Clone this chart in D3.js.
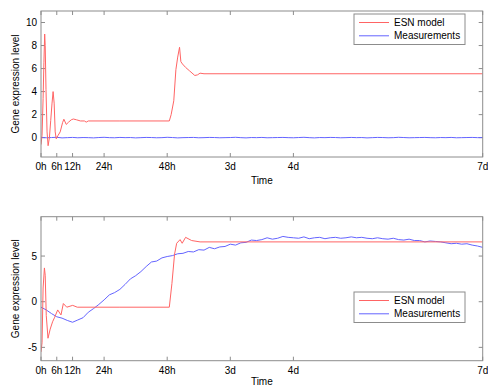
<!DOCTYPE html>
<html>
<head>
<meta charset="utf-8">
<script src="https://cdn.jsdelivr.net/npm/d3@7"></script>
<style>
body { margin: 0; background: #fff; }
svg text { font-family: "Liberation Sans", Arial, sans-serif; font-size: 10px; fill: #000; }
</style>
</head>
<body>
<div id="chart"></div>
<script>
var tickHours = [0, 6, 12, 24, 48, 72, 96, 168];
var tickLabels = ["0h", "6h", "12h", "24h", "48h", "3d", "4d", "7d"];
var seriesNames = ["ESN model", "Measurements"];

// top panel: ESN model (hour, value)
var esnTopHours = [0, 0.4, 0.8, 1.1, 1.4, 1.6, 1.9, 2.3, 2.7, 3.2, 3.7, 4.2, 4.6, 5.0, 5.4, 5.8, 6.5, 7.3, 8.2, 8.7, 9.6, 10.5, 11.5, 12.3, 13.5, 15, 16.5, 17.2, 18, 30, 48.8, 49.5, 50.5, 51.3, 52, 52.7, 53.2, 53.8, 55, 56.5, 58.5, 59.5, 60.5, 62, 168];
var esnTopValues = [-0.6, 0.2, 3.4, 6.5, 9.0, 8.0, 4.2, 0.5, -0.7, 0.0, 1.5, 3.0, 4.0, 3.0, 0.5, -0.1, 0.2, 0.5, 1.3, 1.6, 1.15, 1.35, 1.55, 1.62, 1.55, 1.45, 1.45, 1.35, 1.45, 1.45, 1.45, 2.0, 3.2, 5.9, 7.0, 7.85, 6.6, 6.4, 6.1, 5.8, 5.4, 5.45, 5.6, 5.55, 5.55];

// measurements every 2 hours, 0..168
var measHours = d3.range(0, 169, 2);
var measTopValues = [0.02, -0.01, 0.01, 0.03, -0.02, 0.0, 0.02, -0.01, 0.01, 0.0, -0.02, 0.01, 0.03, 0.0, -0.01, 0.02, 0.0, 0.01, -0.02, 0.0, 0.02, 0.01, -0.01, 0.0, 0.03, 0.01, -0.02, 0.0, 0.01, 0.02, -0.01, 0.0, 0.02, 0.01, -0.01, 0.0, 0.01, 0.03, 0.0, -0.02, 0.01, 0.0, 0.02, -0.01, 0.0, 0.01, 0.02, 0.0, -0.01, 0.01, 0.03, 0.0, -0.02, 0.01, 0.0, 0.02, 0.01, -0.01, 0.0, 0.02, 0.0, 0.01, -0.02, 0.0, 0.02, 0.01, -0.01, 0.0, 0.03, 0.01, -0.01, 0.0, 0.01, 0.02, 0.0, -0.01, 0.01, 0.0, 0.02, -0.01, 0.0, 0.01, 0.02, 0.0, 0.01];

// bottom panel
var esnBottomHours = [0, 0.4, 0.8, 1.3, 1.6, 2.0, 2.66, 3.5, 4.4, 5.2, 6.35, 7.6, 8.5, 9.8, 12.05, 13.8, 30, 48.8, 49.8, 50.8, 51.6, 52.9, 53.7, 55.0, 57.3, 60.5, 168];
var esnBottomValues = [-5.5, -4.5, 1.5, 3.7, 2.9, -1.5, -4.0, -3.0, -2.2, -1.7, -0.9, -1.45, -0.2, -0.6, -0.4, -0.6, -0.6, -0.6, 2.0, 5.2, 6.4, 6.8, 6.4, 7.05, 6.7, 6.55, 6.55];
var measBottomValues = [-0.6, -0.9, -1.3, -1.65, -1.8, -2.05, -2.25, -2.0, -1.75, -1.15, -0.75, -0.3, 0.2, 0.75, 1.0, 1.35, 1.9, 2.5, 2.85, 3.3, 3.85, 4.35, 4.45, 4.8, 4.95, 5.05, 5.25, 5.3, 5.5, 5.45, 5.7, 5.65, 5.95, 5.8, 6.0, 6.05, 6.3, 6.2, 6.45, 6.5, 6.75, 6.7, 6.8, 7.0, 6.85, 6.95, 7.15, 7.05, 7.0, 6.95, 7.1, 6.9, 7.0, 7.05, 6.9, 7.0, 7.05, 6.95, 7.0, 7.1, 7.0, 7.05, 6.95, 6.9, 7.0, 6.9, 6.85, 6.95, 6.8, 6.75, 6.85, 6.7, 6.7, 6.55, 6.65, 6.6, 6.55, 6.45, 6.35, 6.4, 6.3, 6.35, 6.2, 6.1, 5.95];

var colours = { esn: "#ff6464", meas: "#6464ff", box: "#8c8c8c" };
var width = 488, height = 387;
var left = 41, right = 482.7;

var svg = d3.select("#chart").append("svg")
	.attr("width", width)
	.attr("height", height);

var x = d3.scaleLinear().domain([0, 168]).range([left, right]);

function zip(hs, vs) {
	return hs.map(function (h, i) { return [h, vs[i]]; });
}

function buildPanel(cfg) {
	var y = d3.scaleLinear().domain(cfg.yDomain).range([cfg.bottom, cfg.top]);
	var g = svg.append("g");

	var clipId = "clip" + cfg.id;
	g.append("clipPath").attr("id", clipId)
	  .append("rect")
		.attr("x", left).attr("y", cfg.top)
		.attr("width", right - left).attr("height", cfg.bottom - cfg.top);

	var line = d3.line()
		.x(function (d) { return x(d[0]); })
		.y(function (d) { return y(d[1]); });

	// ticks (inside, on all four sides)
	tickHours.forEach(function (h) {
		g.append("line").attr("x1", x(h)).attr("x2", x(h))
			.attr("y1", cfg.bottom).attr("y2", cfg.bottom - 4)
			.attr("stroke", colours.box);
		g.append("line").attr("x1", x(h)).attr("x2", x(h))
			.attr("y1", cfg.top).attr("y2", cfg.top + 4)
			.attr("stroke", colours.box);
	});
	cfg.yTicks.forEach(function (v) {
		g.append("line").attr("x1", left).attr("x2", left + 4)
			.attr("y1", y(v)).attr("y2", y(v))
			.attr("stroke", colours.box);
		g.append("line").attr("x1", right).attr("x2", right - 4)
			.attr("y1", y(v)).attr("y2", y(v))
			.attr("stroke", colours.box);
	});

	var plot = g.append("g").attr("clip-path", "url(#" + clipId + ")");
	plot.append("path")
		.datum(zip(measHours, cfg.meas))
		.attr("fill", "none")
		.attr("stroke", colours.meas)
		.attr("stroke-width", 1)
		.attr("d", line);
	plot.append("path")
		.datum(zip(cfg.esnHours, cfg.esn))
		.attr("fill", "none")
		.attr("stroke", colours.esn)
		.attr("stroke-width", 1)
		.attr("d", line);

	g.append("rect")
		.attr("x", left).attr("y", cfg.top)
		.attr("width", right - left).attr("height", cfg.bottom - cfg.top)
		.attr("fill", "none")
		.attr("stroke", colours.box);

	// tick labels
	g.selectAll("text.xt")
		.data(tickHours)
		.enter()
	  .append("text")
		.attr("class", "xt")
		.attr("x", function (d) { return x(d); })
		.attr("y", cfg.bottom + 13)
		.attr("text-anchor", "middle")
		.text(function (d, i) { return tickLabels[i]; });

	g.selectAll("text.yt")
		.data(cfg.yTicks)
		.enter()
	  .append("text")
		.attr("class", "yt")
		.attr("x", left - 4)
		.attr("y", function (d) { return y(d); })
		.attr("dy", "0.35em")
		.attr("text-anchor", "end")
		.text(function (d) { return d; });

	g.append("text")
		.attr("x", (left + right) / 2)
		.attr("y", cfg.bottom + cfg.timeDy)
		.attr("text-anchor", "middle")
		.text("Time");

	g.append("text")
		.attr("transform", "translate(19," + ((cfg.top + cfg.bottom) / 2) + ") rotate(-90)")
		.attr("text-anchor", "middle")
		.text("Gene expression level");

	// legend
	var lg = g.append("g").attr("transform", "translate(354," + cfg.legendY + ")");
	lg.append("rect")
		.attr("width", 111).attr("height", 30.5)
		.attr("fill", "#fff")
		.attr("stroke", colours.box);
	[colours.esn, colours.meas].forEach(function (c, i) {
		lg.append("line")
			.attr("x1", 5).attr("x2", 35)
			.attr("y1", 8.5 + i * 13.3).attr("y2", 8.5 + i * 13.3)
			.attr("stroke", c);
		lg.append("text")
			.attr("x", 40)
			.attr("y", 8.5 + i * 13.3)
			.attr("dy", "0.35em")
			.text(seriesNames[i]);
	});
}

buildPanel({
	id: 1, top: 11, bottom: 157, yDomain: [-1.68, 11], yTicks: [0, 2, 4, 6, 8, 10],
	esnHours: esnTopHours, esn: esnTopValues, meas: measTopValues, legendY: 14, timeDy: 26.5
});

buildPanel({
	id: 2, top: 216.7, bottom: 360.7, yDomain: [-6.46, 9.31], yTicks: [-5, 0, 5],
	esnHours: esnBottomHours, esn: esnBottomValues, meas: measBottomValues, legendY: 292, timeDy: 24.5
});
</script>
</body>
</html>
